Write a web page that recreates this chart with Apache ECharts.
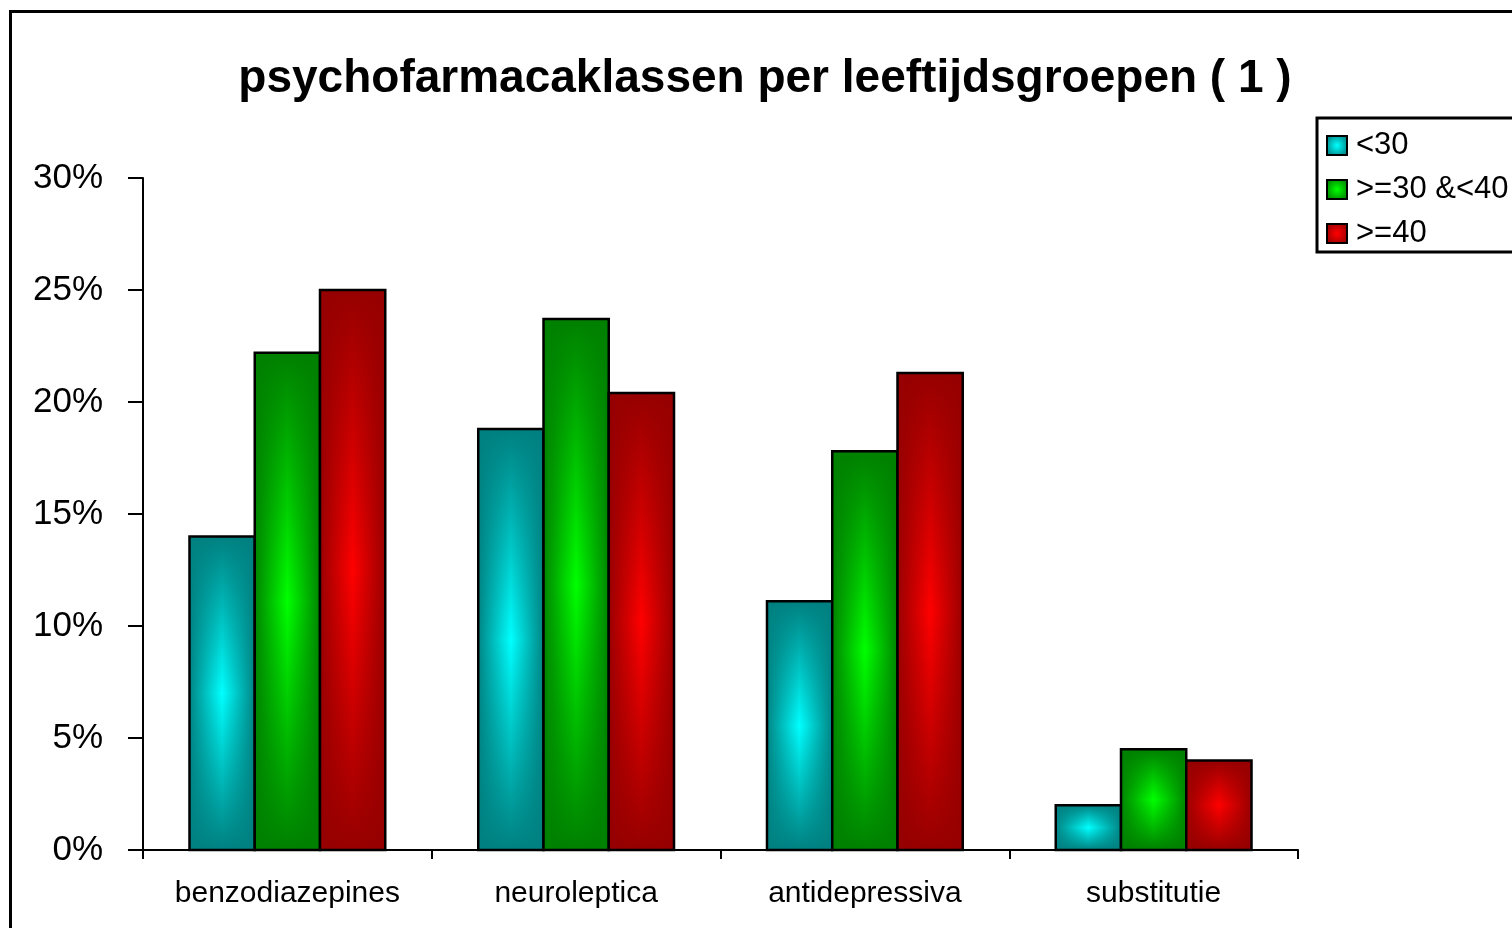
<!DOCTYPE html>
<html>
<head>
<meta charset="utf-8">
<title>psychofarmacaklassen per leeftijdsgroepen</title>
<script src="https://cdn.jsdelivr.net/npm/echarts@6/dist/echarts.min.js"></script>
<style>
  html, body { margin: 0; padding: 0; background: #fff; }
  #chart { width: 1512px; height: 928px; }
</style>
</head>
<body>
<div id="chart"></div>
<script>
// data (percentages)
var categories = ["benzodiazepines", "neuroleptica", "antidepressiva", "substitutie"];
var groupNames = ["<30", ">=30 &<40", ">=40"];
var under30 = [14.0, 18.8, 11.1, 2.0];
var from30to40 = [22.2, 23.7, 17.8, 4.5];
var over40 = [25.0, 20.4, 21.3, 4.0];
var yTicks = [0, 5, 10, 15, 20, 25, 30];

// colours: dark edge + bright centre (excel "from center" gradient)
var edgeColors = [[0, 128, 128], [0, 128, 0], [150, 0, 0]];
var midColors = [[0, 255, 255], [0, 255, 0], [255, 0, 0]];

var BAR_RATIO = 0.226;

function rgba(c, a) {
  return "rgba(" + c[0] + "," + c[1] + "," + c[2] + "," + a + ")";
}

function makeRenderer(idx) {
  var edge = edgeColors[idx], mid = midColors[idx];
  return function (params, api) {
    var c = api.value(0);
    var v = api.value(1);
    var base = api.coord([c, 0]);
    var top = api.coord([c, v]);
    var bandW = api.size([1, 0])[0];
    var w = bandW * BAR_RATIO;
    var x = base[0] - 1.5 * w + idx * w;
    var shape = { x: x, y: top[1], width: w, height: base[1] - top[1] };
    return {
      type: "group",
      children: [
        {
          type: "rect",
          shape: shape,
          style: {
            fill: new echarts.graphic.LinearGradient(0, 0, 0, 1, [
              { offset: 0, color: rgba(edge, 1) },
              { offset: 0.5, color: rgba(mid, 1) },
              { offset: 1, color: rgba(edge, 1) }
            ])
          }
        },
        {
          type: "rect",
          shape: shape,
          style: {
            fill: new echarts.graphic.LinearGradient(0, 0, 1, 0, [
              { offset: 0, color: rgba(edge, 1) },
              { offset: 0.5, color: rgba(edge, 0) },
              { offset: 1, color: rgba(edge, 1) }
            ]),
            stroke: "#000",
            lineWidth: 2.5
          }
        }
      ]
    };
  };
}

function legendIcon(idx) {
  return new echarts.graphic.RadialGradient(0.5, 0.5, 0.6, [
    { offset: 0, color: rgba(midColors[idx], 1) },
    { offset: 1, color: rgba(edgeColors[idx], 1) }
  ]);
}

var seriesValues = [under30, from30to40, over40];

var chart = echarts.init(document.getElementById("chart"));

chart.setOption({
  animation: false,
  title: {
    text: "psychofarmacaklassen per leeftijdsgroepen ( 1 )",
    left: 765,
    top: 56,
    textAlign: "center",
    padding: 0,
    textStyle: {
      fontFamily: "Liberation Sans",
      fontWeight: "bold",
      fontSize: 46,
      color: "#000"
    }
  },
  legend: {
    orient: "vertical",
    left: 1317,
    top: 118,
    padding: [12, 30, 3, 9],
    borderColor: "#000",
    borderWidth: 3,
    itemWidth: 20,
    itemHeight: 19,
    itemGap: 13,
    icon: "rect",
    textStyle: {
      fontFamily: "Liberation Sans",
      fontSize: 31,
      lineHeight: 30,
      color: "#000",
      padding: [0, 0, 0, 4]
    },
    data: groupNames.map(function (n, i) {
      return { name: n, itemStyle: { color: legendIcon(i), borderColor: "#000", borderWidth: 2 } };
    })
  },
  grid: {
    left: 143,
    right: 214,
    top: 178,
    bottom: 78
  },
  xAxis: {
    type: "category",
    data: categories,
    axisLine: { lineStyle: { color: "#000", width: 2 } },
    axisTick: { show: true, interval: 0, length: 9, lineStyle: { color: "#000", width: 2 } },
    axisLabel: {
      interval: 0,
      fontFamily: "Liberation Sans",
      fontSize: 30,
      color: "#000",
      margin: 29
    },
    splitLine: { show: false }
  },
  yAxis: {
    type: "value",
    min: yTicks[0],
    max: yTicks[yTicks.length - 1],
    interval: yTicks[1] - yTicks[0],
    axisLine: { show: true, lineStyle: { color: "#000", width: 2 } },
    axisTick: { show: true, length: 15, lineStyle: { color: "#000", width: 2 } },
    axisLabel: {
      fontFamily: "Liberation Sans",
      fontSize: 35,
      color: "#000",
      margin: 40,
      formatter: "{value}%"
    },
    splitLine: { show: false }
  },
  graphic: [
    {
      type: "rect",
      silent: true,
      z: -10,
      shape: { x: 10.5, y: 11.5, width: 1700, height: 1100 },
      style: { fill: "none", stroke: "#000", lineWidth: 3 }
    }
  ],
  series: seriesValues.map(function (vals, idx) {
    return {
      name: groupNames[idx],
      type: "custom",
      renderItem: makeRenderer(idx),
      itemStyle: { color: rgba(midColors[idx], 1) },
      encode: { x: 0, y: 1 },
      data: vals.map(function (v, i) { return [i, v]; })
    };
  })
});
</script>
</body>
</html>
